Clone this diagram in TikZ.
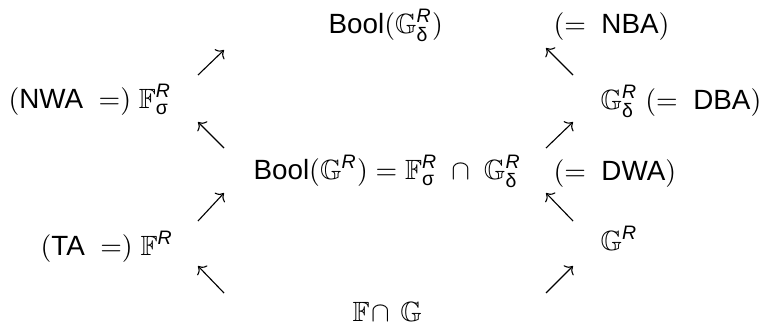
\documentclass[tikz,border=0pt]{standalone}
\usepackage{amsmath,amssymb}
\usepackage{fontspec}
\setmainfont{Liberation Sans}
\usetikzlibrary{arrows.meta}
\newcommand{\rsup}{\textit{R}}
\newcommand{\gsig}{\text{σ}}
\newcommand{\gdel}{\text{δ}}

\begin{document}
\begin{tikzpicture}[x=0.3594pt, y=-0.3594pt,
    cls/.style={anchor=base west, inner sep=0pt},
    incl/.style={-{To[length=2.4pt,width=5pt]}, line width=0.4pt}
]
    \useasboundingbox (0,0) rectangle (763,325);
    % classes, top to bottom
    \node[cls] (boolgd) at (328,33) {$\text{Bool}(\mathbb{G}^{\rsup}_{\gdel})$};
    \node[cls] (nba) at (553,33) {$(=\text{ NBA})$};
    \node[cls] (fsig) at (8,108) {$(\text{NWA }=)\;\mathbb{F}^{\rsup}_{\gsig}$};
    \node[cls] (gdelta) at (600,109) {$\mathbb{G}^{\rsup}_{\gdel}\ (=\text{ DBA})$};
    \node[cls] (boolg) at (253,179) {$\text{Bool}(\mathbb{G}^{\rsup}) = \mathbb{F}^{\rsup}_{\gsig}\;\cap\;\mathbb{G}^{\rsup}_{\gdel}$};
    \node[cls] (dwa) at (553,180) {$(=\text{ DWA})$};
    \node[cls] (fr) at (40,255) {$(\text{TA }=)\;\mathbb{F}^{\rsup}$};
    \node[cls] (gr) at (600,250) {$\mathbb{G}^{\rsup}$};
    \node[cls] (fg) at (352,321) {$\mathbb{F}\!\cap\,\mathbb{G}$};

    % arrow ends, left column
    \coordinate (l1a) at (198,75);  \coordinate (l1b) at (224,50);
    \coordinate (l2a) at (224,148); \coordinate (l2b) at (198,122);
    \coordinate (l3a) at (198,221); \coordinate (l3b) at (224,193);
    \coordinate (l4a) at (224,293); \coordinate (l4b) at (198,266);
    % arrow ends, right column
    \coordinate (r1a) at (573,75);  \coordinate (r1b) at (546,48);
    \coordinate (r2a) at (546,148); \coordinate (r2b) at (573,122);
    \coordinate (r3a) at (573,221); \coordinate (r3b) at (546,193);
    \coordinate (r4a) at (546,293); \coordinate (r4b) at (573,266);

    \draw[incl] (l1a) -- (l1b);
    \draw[incl] (l2a) -- (l2b);
    \draw[incl] (l3a) -- (l3b);
    \draw[incl] (l4a) -- (l4b);
    \draw[incl] (r1a) -- (r1b);
    \draw[incl] (r2a) -- (r2b);
    \draw[incl] (r3a) -- (r3b);
    \draw[incl] (r4a) -- (r4b);
\end{tikzpicture}
\end{document}
